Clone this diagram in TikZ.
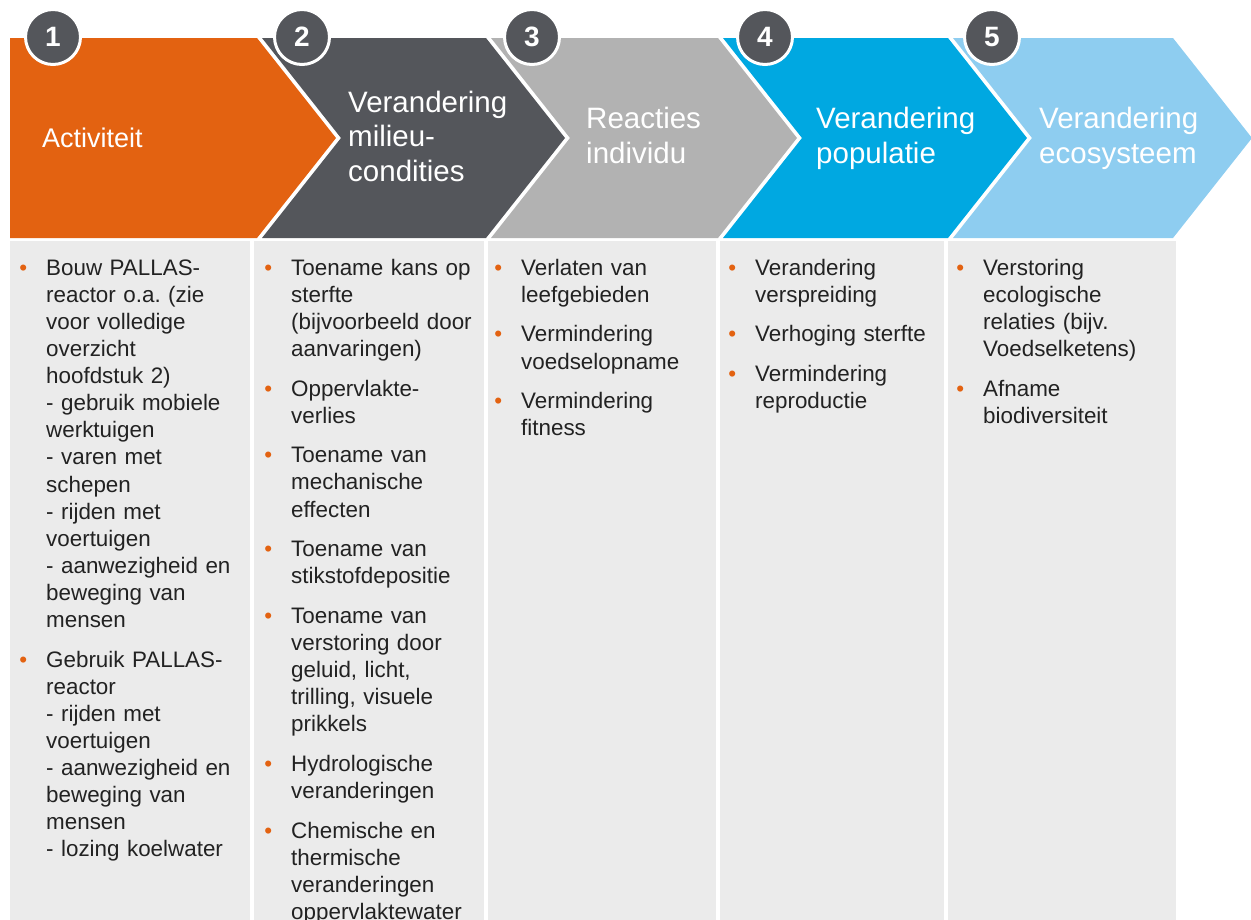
\documentclass[tikz,border=0pt]{standalone}
\usepackage{fontspec}
\setmainfont{Liberation Sans}
\frenchspacing
\definecolor{corange}{HTML}{E36211}
\definecolor{cdark}{HTML}{54565B}
\definecolor{cgray}{HTML}{B2B2B2}
\definecolor{cblue}{HTML}{00A8E1}
\definecolor{clight}{HTML}{8ECDF0}
\definecolor{cbox}{HTML}{EBEBEB}
\definecolor{ctext}{HTML}{222222}
\definecolor{cbul}{HTML}{E36211}
\newcommand\bul{\leavevmode\llap{\textcolor{cbul}{\textbullet}\hspace{19pt}}}
\begin{document}
\begin{tikzpicture}[x=1pt,y=-1pt,
  numcirc/.style={circle, fill=cdark, draw=white, line width=3pt, minimum size=55pt, inner sep=0pt, text=white, font=\fontsize{28}{30}\selectfont\bfseries},
  title/.style={anchor=north west, inner sep=0pt, text width=220pt, align=left, text=white, font=\fontsize{29.5}{34.5}\selectfont, yshift=24.15pt},
  body/.style={anchor=north west, inner sep=0pt, text width=240pt, align=left, text=ctext, font=\fontsize{22.4}{27.1}\selectfont\frenchspacing, yshift=18.97pt},
  boxbg/.style={fill=cbox}]
\useasboundingbox (0,0) rectangle (1251,919);
\clip (0,0) rectangle (1251,919);
% chevrons
\fill[corange] (10,38) -- (257,38) -- (336,138) -- (257,238) -- (10,238) -- cycle;
\fill[cdark] (262,38) -- (486,38) -- (565,138) -- (486,238) -- (262,238) -- (341,138) -- cycle;
\fill[cgray] (491,38) -- (718,38) -- (797,138) -- (718,238) -- (491,238) -- (570,138) -- cycle;
\fill[cblue] (723,38) -- (948,38) -- (1027,138) -- (948,238) -- (723,238) -- (802,138) -- cycle;
\fill[clight] (953,38) -- (1173,38) -- (1252,138) -- (1173,238) -- (953,238) -- (1032,138) -- cycle;
% boxes
\fill[boxbg] (10,241) rectangle (250,925);
\fill[boxbg] (254,241) rectangle (484,925);
\fill[boxbg] (488,241) rectangle (716,925);
\fill[boxbg] (720,241) rectangle (944,925);
\fill[boxbg] (948,241) rectangle (1176,925);
% number circles
\node[numcirc] (n1) at (53,37) {1};
\node[numcirc] (n2) at (302,37) {2};
\node[numcirc] (n3) at (532,37) {3};
\node[numcirc] (n4) at (765,37) {4};
\node[numcirc] (n5) at (992,37) {5};
% titles
\node[title, font=\fontsize{27}{32}\selectfont, yshift=-1.6pt] (t1) at (42,150) {Activiteit};
\node[title] (t2) at (348,115) {Verandering\\milieu-\\condities};
\node[title] (t3) at (586,131.5) {Reacties\\individu};
\node[title] (t4) at (816,131.5) {Verandering\\populatie};
\node[title] (t5) at (1039,131.5) {Verandering\\ecosysteem};
% bodies
\node[body] (b1) at (46,275) {\strut\bul Bouw PALLAS-\\reactor o.a. (zie\\voor volledige\\overzicht\\hoofdstuk 2)\\- gebruik mobiele\\werktuigen\\- varen met\\schepen\\- rijden met\\voertuigen\\- aanwezigheid en\\beweging van\\mensen\\[12.5pt]\bul Gebruik PALLAS-\\reactor\\- rijden met\\voertuigen\\- aanwezigheid en\\beweging van\\mensen\\- lozing koelwater};
\node[body] (b2) at (291,275) {\strut\bul Toename kans op\\sterfte\\(bijvoorbeeld door\\aanvaringen)\\[12.5pt]\bul Oppervlakte-\\verlies\\[12.5pt]\bul Toename van\\mechanische\\effecten\\[12.5pt]\bul Toename van\\stikstofdepositie\\[12.5pt]\bul Toename van\\verstoring door\\geluid, licht,\\trilling, visuele\\prikkels\\[12.5pt]\bul Hydrologische\\veranderingen\\[12.5pt]\bul Chemische en\\thermische\\veranderingen\\oppervlaktewater};
\node[body] (b3) at (521,275) {\strut\bul Verlaten van\\leefgebieden\\[12.5pt]\bul Vermindering\\voedselopname\\[12.5pt]\bul Vermindering\\fitness};
\node[body] (b4) at (755,275) {\strut\bul Verandering\\verspreiding\\[12.5pt]\bul Verhoging sterfte\\[12.5pt]\bul Vermindering\\reproductie};
\node[body] (b5) at (983,275) {\strut\bul Verstoring\\ecologische\\relaties (bijv.\\Voedselketens)\\[12.5pt]\bul Afname\\biodiversiteit};
\end{tikzpicture}
\end{document}
